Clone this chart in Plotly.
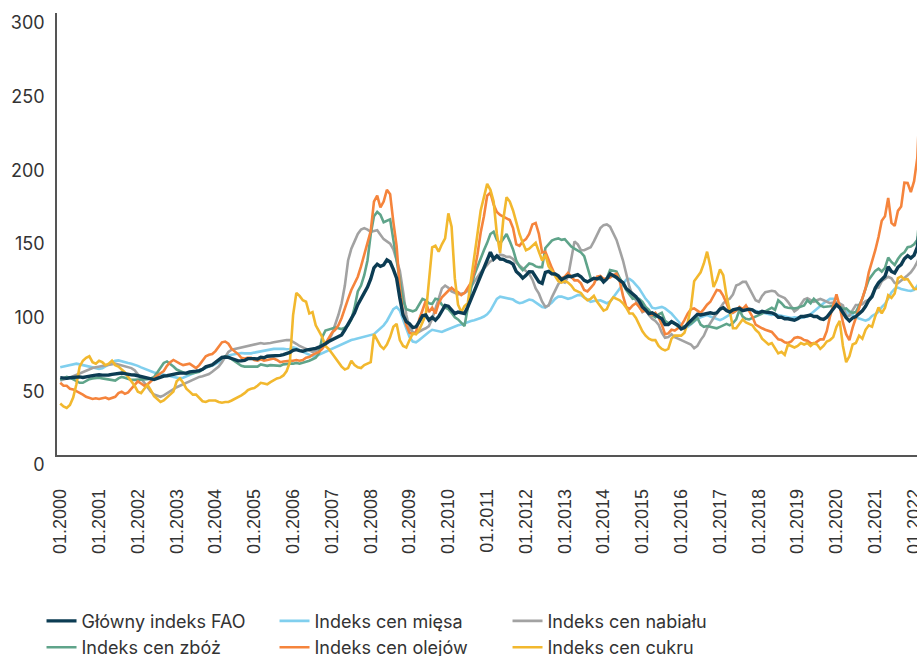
import plotly.graph_objects as go

tick_labels = ["01.2000", "01.2001", "01.2002", "01.2003", "01.2004", "01.2005",
               "01.2006", "01.2007", "01.2008", "01.2009", "01.2010", "01.2011",
               "01.2012", "01.2013", "01.2014", "01.2015", "01.2016", "01.2017",
               "01.2018", "01.2019", "01.2020", "01.2021", "01.2022"]
tick_pos = [0, 12, 24, 36, 48, 60, 72, 84, 96, 108, 120, 132, 144, 156, 168,
            180, 192, 204, 216, 228, 240, 252, 264]
y_ticks = [0, 50, 100, 150, 200, 250, 300]

fao = [
52.5,52.3,52.0,52.4,52.6,52.8,53.0,52.6,53.2,53.6,53.9,54.2,
54.5,54.2,54.0,54.3,54.7,54.9,55.4,55.6,55.2,54.6,54.4,54.3,
53.8,53.2,52.6,51.9,51.3,51.2,52.0,52.9,53.6,53.8,54.1,54.5,
55.2,55.6,55.4,55.6,56.4,56.5,56.9,57.3,58.2,59.8,60.7,61.2,
62.8,64.3,66.2,66.5,66.3,65.5,64.5,63.9,64.0,64.2,65.4,65.6,
65.4,65.2,66.4,66.0,67.0,67.2,67.3,67.0,67.6,68.1,68.7,69.6,
71.0,71.5,70.9,70.4,71.2,71.5,72.0,72.4,73.2,74.2,75.5,77.0,
78.0,79.6,80.2,81.5,85.0,89.0,92.0,96.5,102.0,106.5,110.0,114.0,
119.5,127.0,129.5,128.0,129.0,132.5,131.0,126.0,120.0,106.5,95.0,90.5,
89.0,86.5,87.0,90.5,94.5,95.0,91.5,93.5,91.5,94.0,97.5,101.5,
101.0,98.5,96.0,97.0,96.5,96.0,100.5,106.0,111.0,116.0,122.0,128.0,
132.5,137.6,133.0,135.2,133.0,132.8,131.5,131.0,129.5,124.5,122.6,120.0,
121.9,124.4,124.3,121.2,117.5,116.5,124.0,124.6,123.0,122.9,121.6,119.0,
120.5,121.5,121.0,122.0,122.5,121.0,118.5,117.5,118.5,120.0,119.5,120.5,
117.5,119.5,123.0,122.0,120.5,118.5,117.0,113.0,111.0,109.5,107.5,104.5,
100.5,98.5,96.0,96.5,95.0,94.0,92.5,88.5,88.5,90.5,89.5,88.0,
85.5,86.5,89.0,91.0,93.5,95.5,95.0,95.5,96.0,96.5,96.0,96.5,
99.0,100.0,98.0,97.0,98.5,99.0,99.5,98.0,98.5,99.0,98.5,97.0,
96.5,97.5,97.0,97.0,96.5,95.5,93.5,93.5,92.5,92.5,92.0,91.5,
92.5,94.0,94.0,94.5,95.0,94.0,94.0,92.5,92.0,93.5,96.5,99.0,
102.0,100.0,96.4,93.2,91.0,93.1,94.0,95.9,97.8,100.9,105.0,107.5,
113.3,116.9,119.1,121.3,127.8,124.6,123.5,127.4,129.2,133.2,135.3,133.7,
135.6,141.1,159.7]

meat = [
59.5,60.0,60.5,61.0,61.8,62.0,61.5,61.0,60.5,60.0,59.5,59.0,
58.5,58.8,60.0,61.5,63.0,64.0,64.2,63.8,63.0,62.5,62.0,61.5,
60.5,59.5,58.5,57.5,57.0,56.0,55.5,55.0,54.5,54.0,53.0,52.5,
52.0,52.0,52.5,53.5,54.5,55.5,56.5,57.5,58.5,59.5,60.0,60.5,
61.5,63.0,64.5,66.0,67.5,68.0,68.5,69.0,69.2,69.0,68.8,69.0,
69.5,70.0,70.5,71.0,71.5,71.8,72.0,72.0,72.2,72.0,71.8,72.0,
73.0,72.5,71.0,70.0,69.0,68.0,67.0,67.0,68.0,69.5,70.5,71.5,
72.0,73.0,74.5,75.5,76.5,77.5,78.0,78.5,79.0,79.5,80.0,80.5,
81.0,82.0,84.0,86.0,88.0,91.0,95.0,99.0,100.5,98.0,92.0,86.0,
80.0,77.0,76.5,78.0,80.0,82.0,83.5,85.0,84.5,84.0,83.5,84.5,
85.5,86.5,87.5,88.0,88.5,89.5,90.5,91.0,91.5,92.0,93.0,94.0,
95.5,98.0,102.0,106.0,107.5,107.0,106.5,106.0,105.5,104.0,103.0,103.5,
104.5,105.5,105.0,103.5,102.0,100.5,100.0,101.5,103.5,106.0,107.5,107.5,
106.5,106.0,106.5,107.5,108.5,108.5,107.0,105.0,104.0,104.5,105.0,105.0,
104.0,103.0,104.0,107.0,110.0,113.0,116.5,119.0,119.5,118.0,115.5,113.0,
109.5,106.0,103.5,100.0,99.5,100.0,100.5,99.5,98.0,96.0,93.5,91.0,
88.0,86.0,87.0,89.0,91.0,92.5,93.5,94.5,95.0,94.0,93.0,92.5,
91.5,92.5,94.0,95.5,97.0,98.0,99.0,99.5,99.5,99.0,98.5,97.5,
97.0,96.5,96.0,95.5,95.0,95.5,95.0,94.5,94.0,93.5,93.0,93.5,
93.0,93.0,93.5,94.0,95.5,97.5,99.5,101.5,103.0,104.5,106.0,106.0,
103.5,100.7,99.4,97.2,95.5,95.1,93.2,92.6,91.8,91.2,92.1,94.4,
95.6,97.1,100.4,102.5,106.1,110.3,112.8,113.6,112.7,112.0,111.7,111.3,
112.1,114.8,119.3]

dairy = [
50.5,51.0,51.5,52.5,53.5,54.5,55.5,56.5,57.5,58.5,59.0,59.5,
60.0,60.5,61.0,61.5,62.0,62.0,61.5,61.0,60.5,60.0,59.0,57.5,
55.0,52.0,49.0,46.0,43.0,41.0,40.0,39.5,40.5,42.0,43.5,45.0,
46.0,47.0,48.0,49.0,50.0,51.5,52.5,53.0,53.5,54.0,55.0,56.5,
58.0,60.0,63.0,67.0,70.0,71.5,72.0,72.5,73.0,74.0,74.5,75.0,
75.5,76.0,76.0,75.5,75.5,76.0,76.5,77.0,77.5,78.0,78.0,78.0,
77.0,75.5,74.0,73.0,72.0,71.0,70.0,70.5,71.5,73.0,75.0,78.0,
82.0,88.0,95.0,103.0,115.0,132.0,140.0,145.0,150.0,153.0,154.0,153.0,
151.5,152.0,152.5,149.5,146.5,145.0,143.5,139.5,133.0,125.0,111.0,95.0,
86.0,83.5,82.5,84.0,85.0,86.0,87.5,92.5,100.0,106.0,113.0,115.0,
113.5,111.0,110.0,109.0,109.5,110.0,111.5,114.0,117.5,121.0,124.0,126.5,
129.0,131.5,132.5,134.5,136.0,135.5,134.5,134.5,133.0,130.5,128.5,126.5,
124.5,123.0,119.0,113.0,109.5,104.0,100.5,101.5,107.0,112.0,116.0,118.0,
117.0,121.0,132.0,145.0,143.0,139.0,139.0,140.0,141.0,145.0,150.0,154.0,
156.0,156.5,155.0,151.0,146.0,139.0,132.0,123.0,114.0,108.0,105.0,101.0,
97.0,98.5,95.0,92.5,91.0,88.5,83.0,79.5,80.0,82.0,80.0,79.0,
78.0,77.0,75.5,75.0,72.5,74.0,78.0,81.0,86.0,90.0,93.0,96.0,
99.5,103.0,105.0,106.0,109.0,115.0,116.0,117.5,117.5,113.0,109.0,105.0,
104.0,108.0,110.5,111.0,111.5,111.0,108.5,107.5,106.5,104.0,100.5,97.5,
99.0,102.5,105.5,106.5,105.5,104.0,105.0,106.0,105.0,104.0,103.0,103.5,
103.8,102.9,101.5,94.6,94.4,98.3,101.8,102.0,102.3,104.5,105.3,108.8,
113.0,113.6,117.9,119.5,121.0,119.9,116.8,116.7,118.1,120.1,122.0,124.0,
127.0,131.0,137.0]

cereals = [
51.0,52.0,53.0,52.5,51.5,50.0,49.0,49.0,50.5,51.5,52.0,52.5,
52.5,52.0,51.5,51.0,51.0,50.5,52.0,53.0,52.5,51.5,51.0,51.0,
51.0,51.0,51.0,51.5,52.0,53.0,56.0,59.5,62.5,63.5,62.0,60.0,
58.0,57.0,55.5,55.0,55.0,55.5,55.5,56.5,58.0,59.5,60.0,61.0,
63.0,64.5,66.0,67.0,66.5,65.0,63.0,61.5,60.5,60.0,60.0,60.0,
60.0,60.0,61.5,61.0,60.5,61.0,61.0,60.5,60.5,61.5,62.0,62.0,
62.0,62.5,62.0,62.5,63.5,64.0,65.0,66.0,69.0,80.0,84.5,85.0,
86.0,86.5,86.0,85.5,86.5,88.0,92.0,100.0,111.0,115.0,122.0,132.0,
150.0,162.0,165.0,163.0,158.0,159.0,160.0,146.0,133.0,118.0,105.0,99.0,
98.0,97.5,98.5,102.0,106.0,105.0,103.0,102.5,106.0,105.5,102.0,100.0,
99.0,96.5,93.5,92.0,90.0,87.5,100.0,113.0,122.0,128.0,133.0,139.0,
144.0,150.0,151.5,146.0,143.5,147.0,150.0,145.0,139.5,132.0,128.0,125.5,
128.0,130.0,129.5,128.0,127.5,127.5,140.5,143.0,145.5,146.5,147.0,146.0,
146.5,144.0,141.5,140.0,138.5,137.5,135.0,128.0,120.0,119.5,120.0,119.0,
118.0,120.0,125.5,125.0,124.5,120.0,115.5,112.0,109.0,106.0,106.5,106.0,
104.0,100.5,98.5,95.0,93.5,95.5,96.5,91.0,89.5,90.5,89.0,87.0,
86.5,87.0,88.0,89.0,91.0,93.0,88.5,87.0,87.5,87.0,86.5,86.0,
87.0,88.0,89.0,88.0,89.5,92.0,98.5,94.0,92.5,92.0,93.0,93.5,
94.5,96.0,97.5,98.5,100.0,98.5,105.0,103.0,100.5,100.0,99.5,99.5,
100.0,100.5,101.5,105.0,103.0,106.0,103.5,101.5,100.5,100.5,101.0,101.5,
102.0,101.0,99.0,99.5,97.5,96.5,97.0,101.5,106.0,113.0,119.0,122.0,
125.0,126.5,124.5,127.0,134.0,131.0,129.0,133.0,136.0,137.5,141.0,141.5,
143.0,146.0,170.0]

oils = [
49.0,47.0,47.0,45.0,44.5,43.5,42.0,41.0,39.5,38.5,38.0,38.5,
38.0,38.5,39.0,38.0,38.5,39.5,42.0,43.0,41.5,42.5,45.0,47.5,
50.0,48.5,47.0,48.0,50.0,52.5,54.0,55.5,57.0,60.5,63.0,64.5,
63.0,62.0,61.0,61.5,62.0,60.5,59.0,61.0,64.0,67.0,68.0,68.5,
70.5,73.5,76.5,77.0,75.5,72.0,70.5,68.5,66.0,65.5,66.0,66.0,
64.5,64.0,65.0,64.0,64.5,65.0,65.5,64.5,63.0,63.5,64.0,64.0,
64.0,64.5,64.0,64.5,66.0,66.5,68.0,69.0,70.0,72.0,76.0,80.0,
83.0,85.0,88.0,93.0,100.0,106.0,112.0,116.0,121.0,128.0,136.0,145.0,
152.0,172.0,176.0,168.0,172.0,180.0,177.0,158.0,142.0,113.0,96.0,88.0,
83.0,82.0,83.5,92.0,99.0,104.5,97.0,100.0,96.0,103.0,107.0,109.5,
111.5,113.5,111.5,110.5,108.5,110.0,113.5,117.0,124.0,136.0,151.0,162.0,
176.0,178.0,170.0,165.0,163.0,162.0,161.0,159.5,154.0,143.0,142.0,145.0,
146.5,150.0,156.5,157.5,150.0,137.5,138.0,132.0,127.0,122.0,119.5,120.0,
121.0,123.5,121.0,118.5,118.5,116.5,112.0,111.0,113.5,116.0,121.0,121.5,
119.5,120.0,120.5,122.0,123.0,118.0,108.0,100.5,99.0,101.5,103.0,100.5,
97.5,98.0,96.0,95.0,96.5,93.5,88.5,82.0,82.5,85.0,84.5,86.0,
88.0,91.5,96.0,99.0,99.5,98.0,96.5,99.0,102.0,104.0,108.0,112.0,
111.5,108.0,103.0,97.5,96.5,98.0,100.5,99.0,101.5,97.5,94.0,88.5,
87.0,86.0,85.0,84.0,83.5,81.0,78.5,78.0,76.5,76.0,77.0,79.5,
80.0,79.5,78.0,77.5,76.0,75.5,77.0,78.5,78.5,84.0,94.0,102.0,
109.0,101.0,90.0,82.0,78.0,86.5,93.0,99.0,107.0,113.0,124.0,131.0,
139.0,148.0,159.0,162.0,174.5,157.5,155.5,165.7,168.6,184.8,184.6,178.5,
185.9,201.7,251.8]

sugar = [
35.0,33.0,32.0,34.0,39.0,48.0,60.0,64.0,66.0,67.0,63.0,62.0,
64.0,63.0,61.0,62.0,64.0,61.0,60.0,58.0,56.0,53.0,50.0,47.0,
43.0,42.0,45.0,47.5,44.0,40.0,38.0,36.0,37.0,39.0,41.0,43.0,
50.0,52.0,49.0,45.0,43.0,41.0,41.0,39.0,36.5,36.0,37.0,37.0,
37.0,36.0,35.5,36.0,36.0,37.0,38.0,39.0,40.5,42.0,44.0,45.0,
45.5,47.0,49.0,48.5,48.0,49.5,51.0,52.0,52.5,54.0,57.0,63.0,
95.0,110.0,108.0,105.0,104.0,96.0,97.0,88.0,84.0,80.0,74.0,72.0,
69.0,66.0,63.0,60.0,58.0,59.0,64.0,61.0,59.5,59.0,61.0,62.0,
63.0,82.0,78.0,74.0,72.0,75.0,80.0,87.0,89.0,78.0,74.0,73.0,
78.0,82.5,82.0,85.0,90.0,95.0,118.0,141.0,142.0,138.0,143.0,147.0,
164.0,155.0,120.0,102.0,97.0,101.0,103.0,118.0,132.0,150.0,166.0,176.0,
184.0,180.0,172.0,150.0,137.0,160.0,175.0,172.0,166.0,158.0,150.0,144.0,
139.0,140.0,142.0,144.0,138.0,132.0,136.0,128.0,125.0,121.0,118.0,117.0,
118.0,117.0,115.0,112.0,111.0,110.0,107.0,105.0,106.0,108.0,104.0,101.0,
98.0,99.0,104.0,107.0,106.0,105.0,103.0,100.0,96.0,96.0,93.0,88.0,
84.0,81.0,79.0,78.0,78.0,74.0,72.0,71.0,72.0,79.0,81.0,81.0,
81.0,83.0,90.0,100.0,118.0,121.0,124.0,130.0,138.0,128.0,114.0,119.0,
126.0,122.0,108.0,98.0,86.0,86.0,89.0,92.0,90.0,89.0,88.0,85.0,
83.0,79.0,77.0,75.0,76.0,72.0,69.0,70.0,68.0,75.0,74.0,73.0,
74.0,76.0,75.0,76.0,74.0,76.0,75.0,72.0,74.0,77.0,78.0,80.0,
87.0,91.0,74.0,63.0,67.0,75.0,76.0,81.0,79.0,85.0,88.0,87.0,
94.2,100.2,96.2,100.0,108.4,106.7,109.6,120.1,121.2,119.1,119.4,116.4,
112.7,112.8,117.9]

series = [
    ("Indeks cen mięsa", meat, "#80cfee", 2.6, 2),
    ("Indeks cen nabiału", dairy, "#a2a2a2", 2.6, 3),
    ("Indeks cen zbóż", cereals, "#5fa48a", 2.6, 4),
    ("Indeks cen olejów", oils, "#f5843c", 2.6, 5),
    ("Indeks cen cukru", sugar, "#f2b82e", 2.6, 6),
    ("Główny indeks FAO", fao, "#0c3c53", 3.4, 1),
]

fig = go.Figure()
for name, vals, color, width, rank in series:
    assert len(vals) == 267, (name, len(vals))
    fig.add_trace(go.Scatter(
        x=list(range(len(vals))), y=vals, mode="lines", name=name,
        line=dict(color=color, width=width), legendrank=rank,
        hoverinfo="skip"))

fig.update_layout(
    width=917, height=656,
    margin=dict(l=57, r=0, t=13, b=201, autoexpand=False),
    paper_bgcolor="white", plot_bgcolor="white",
    showlegend=True,
    legend=dict(orientation="h", x=-0.018, xanchor="left", y=-0.334, yanchor="top",
                font=dict(family="Inter", size=18, color="#333333"),
                entrywidth=188, entrywidthmode="pixels", tracegroupgap=0,
                itemwidth=30, bgcolor="rgba(0,0,0,0)"),
    xaxis=dict(range=[-1.0, 264.9], tickmode="array", tickvals=tick_pos,
               ticktext=tick_labels, tickangle=-90, showgrid=False,
               zeroline=False, showline=True, linecolor="#555555", linewidth=1.5,
               ticks="", ticklabelstandoff=25, automargin=False,
               ticklabeloverflow="allow",
               tickfont=dict(family="Liberation Sans", size=18, color="#333333")),
    yaxis=dict(range=[0, 300], tickmode="array", tickvals=y_ticks,
               showgrid=False, zeroline=False, showline=True,
               linecolor="#555555", linewidth=1.5, ticks="", automargin=False,
               ticklabelstandoff=7, ticklabelshift=10,
               tickfont=dict(family="Inter", size=18, color="#333333")),
)

fig.write_html(
    "out.html",
    config={"displayModeBar": False},
    post_script="document.body.style.margin='0px';"
                "document.documentElement.style.overflow='hidden';",
)
